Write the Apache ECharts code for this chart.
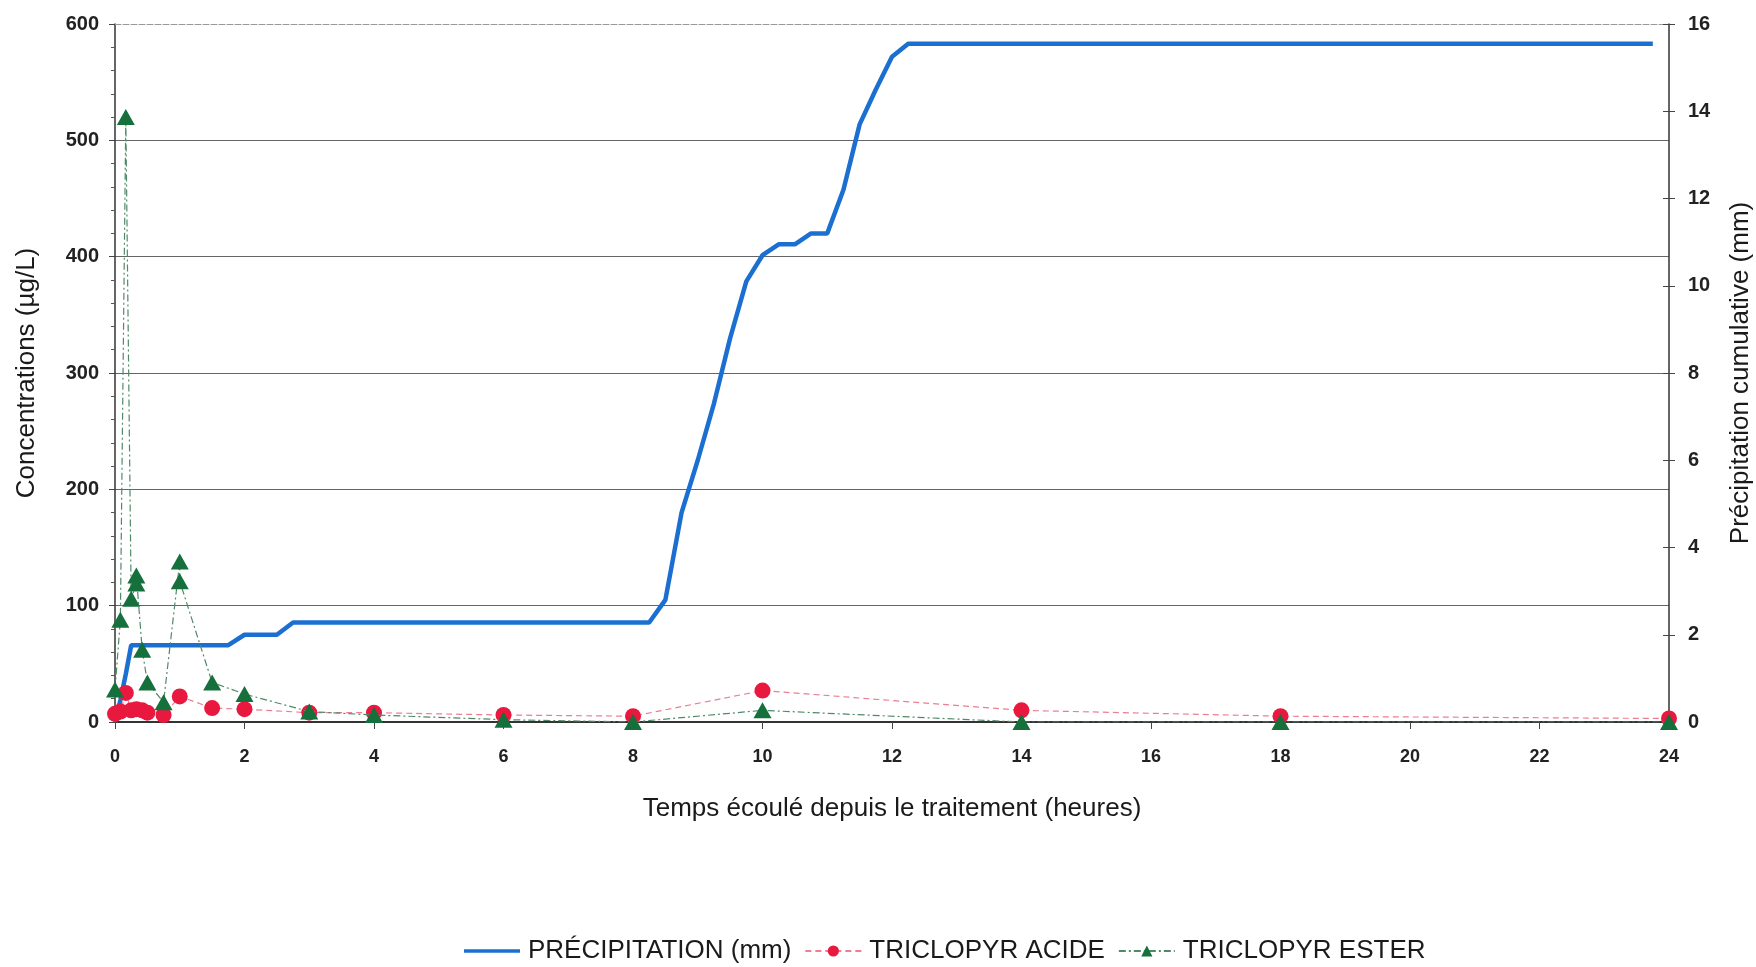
<!DOCTYPE html>
<html>
<head>
<meta charset="utf-8">
<script src="https://cdn.jsdelivr.net/npm/echarts@6/dist/echarts.min.js"></script>
<style>
html,body{margin:0;padding:0;background:#fff;}
#chart{width:1756px;height:967px;}
</style>
</head>
<body>
<div id="chart"></div>
<script>
// ---- data ----
const precipHours = [0, 0.083, 0.167, 0.25, 1.75, 2.0, 2.5, 2.75, 8.25, 8.5, 8.75, 9.0, 9.25, 9.5, 9.75, 10.0, 10.25, 10.5, 10.75, 11.0, 11.25, 11.5, 11.75, 12.0, 12.25, 23.75];
const precipMm    = [0, 0.5, 1.1, 1.76, 1.76, 2.0, 2.0, 2.28, 2.28, 2.8, 4.8, 6.0, 7.3, 8.8, 10.1, 10.7, 10.95, 10.95, 11.2, 11.2, 12.2, 13.7, 14.5, 15.25, 15.55, 15.55];

const acidHours = [0, 0.083, 0.167, 0.25, 0.33, 0.42, 0.5, 0.75, 1, 1.5, 2, 3, 4, 6, 8, 10, 14, 18, 24];
const acidVals  = [7, 9, 25, 10, 11, 10, 8, 6, 22, 12, 11, 8, 8, 6, 5, 27, 10, 5, 3];

const esterHours = [0, 0.083, 0.167, 0.25, 0.33, 0.33, 0.42, 0.5, 0.75, 1, 1, 1.5, 2, 3, 4, 6, 8, 10, 14, 18, 24];
const esterVals  = [28, 88, 520, 106, 119, 126, 62, 34, 17, 138, 121, 34, 24, 9, 6, 2, 0, 10, 0, 0, 0];

const seriesNames = ['PRÉCIPITATION (mm)', 'TRICLOPYR ACIDE', 'TRICLOPYR ESTER'];
const xAxisTitle = 'Temps écoulé depuis le traitement (heures)';
const leftAxisTitle = 'Concentrations (µg/L)';
const rightAxisTitle = 'Précipitation cumulative (mm)';

const zip = (a, b) => a.map((v, i) => [v, b[i]]);

const font = 'Liberation Sans, Arial, sans-serif';
const chart = echarts.init(document.getElementById('chart'), null, {renderer: 'canvas'});

chart.setOption({
  animation: false,
  backgroundColor: '#ffffff',
  grid: {left: 115, right: 87, top: 24, bottom: 245, containLabel: false, outerBoundsMode: 'none'},
  legend: {
    top: 933,
    left: 459,
    itemWidth: 56,
    itemHeight: 14,
    itemGap: 13,
    textStyle: {fontFamily: font, fontSize: 26, color: '#1a1a1a', padding: [0, 0, 0, 3]},
    data: [
      {name: seriesNames[0], icon: 'path://M0,0 L60,0 L60,4 L0,4 Z', lineStyle: {width: 5, cap: 'round'}},
      {name: seriesNames[1]},
      {name: seriesNames[2]}
    ]
  },
  xAxis: [{
    type: 'value', min: 0, max: 24, interval: 2,
    name: xAxisTitle, nameLocation: 'middle', nameGap: 74,
    nameTextStyle: {fontFamily: font, fontSize: 26, color: '#1a1a1a'},
    axisLine: {show: true, onZero: false, lineStyle: {color: '#333', width: 2}},
    axisTick: {show: true, length: 7, lineStyle: {color: '#444'}},
    axisLabel: {fontFamily: font, fontSize: 18, fontWeight: 'bold', color: '#222', margin: 26},
    splitLine: {show: false}
  }, {
    type: 'value', min: 0, max: 24, position: 'top',
    axisLine: {show: true, onZero: false, lineStyle: {color: '#999', width: 1, type: [6, 2]}},
    axisTick: {show: false}, axisLabel: {show: false}, splitLine: {show: false}
  }],
  yAxis: [{
    type: 'value', min: 0, max: 600, interval: 100,
    name: leftAxisTitle, nameLocation: 'middle', nameGap: 75,
    nameTextStyle: {fontFamily: font, fontSize: 26, color: '#1a1a1a'},
    axisLine: {show: true, onZero: false, lineStyle: {color: '#333', width: 1.5}},
    axisTick: {show: true, length: 6, lineStyle: {color: '#444'}},
    minorTick: {show: true, splitNumber: 5, length: 4, lineStyle: {color: '#555'}},
    axisLabel: {fontFamily: font, fontSize: 20, fontWeight: 'bold', color: '#222', margin: 16},
    splitLine: {show: true, showMaxLine: false, lineStyle: {color: '#666', width: 1.2}}
  }, {
    type: 'value', min: 0, max: 16, interval: 2, position: 'right',
    name: rightAxisTitle, nameLocation: 'middle', nameGap: 59,
    nameTextStyle: {fontFamily: font, fontSize: 26, color: '#1a1a1a'},
    axisLine: {show: true, onZero: false, lineStyle: {color: '#333', width: 1.5}},
    axisTick: {show: true, length: 6, lineStyle: {color: '#444'}},
    axisLabel: {fontFamily: font, fontSize: 20, fontWeight: 'bold', color: '#222', margin: 19},
    splitLine: {show: false}
  }, {
    type: 'value', min: 0, max: 16, interval: 2, position: 'right',
    axisLine: {show: false, onZero: false},
    axisTick: {show: true, inside: true, length: 6, lineStyle: {color: '#444'}},
    axisLabel: {show: false},
    splitLine: {show: false}
  }],
  series: [{
    name: seriesNames[0], type: 'line', yAxisIndex: 1,
    data: zip(precipHours, precipMm),
    symbol: 'none', showSymbol: false,
    lineStyle: {color: '#1b6fd1', width: 4.5},
    itemStyle: {color: '#1b6fd1'},
    z: 2
  }, {
    name: seriesNames[1], type: 'line', yAxisIndex: 0,
    data: zip(acidHours, acidVals),
    symbol: 'circle', symbolSize: 16,
    lineStyle: {color: '#ec7d93', width: 1.2, type: [6, 4]},
    itemStyle: {color: '#e8183f'},
    z: 3
  }, {
    name: seriesNames[2], type: 'line', yAxisIndex: 0,
    data: zip(esterHours, esterVals),
    symbol: 'triangle', symbolSize: [18, 16],
    lineStyle: {color: '#4f8a68', width: 1.2, type: [7, 3, 2, 3]},
    itemStyle: {color: '#15703c'},
    z: 4
  }]
});
</script>
</body>
</html>
